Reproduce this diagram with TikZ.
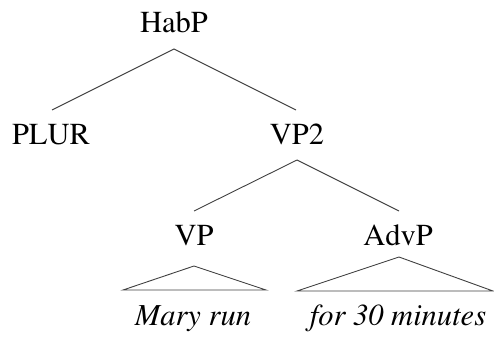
\documentclass[tikz,border=0pt]{standalone}
\usepackage[T1]{fontenc}
\usepackage{times}
\begin{document}
\begin{tikzpicture}[x=1pt,y=-1pt,
  lbl/.style={anchor=base,inner sep=0pt,font=\rmfamily\fontsize{30.5}{36}\selectfont},
  leaf/.style={lbl,font=\rmfamily\fontsize{30.5}{36}\selectfont\itshape},
  edge/.style={draw=black!75,line width=0.9pt}]
\useasboundingbox (0,0) rectangle (494,337);
\node[lbl] (habp) at (174,33) {HabP};
\node[lbl] (plur) at (51,144) {PLUR};
\node[lbl] (vp2) at (297,144) {VP2};
\node[lbl] (vp) at (194,245) {VP};
\node[lbl] (advp) at (398,245) {AdvP};
\node[leaf] (mr) at (193,325) {Mary run};
\node[leaf] (f30) at (398,325) {for 30 minutes};
\coordinate (habpB) at (174,49);
\coordinate (plurT) at (52,110);
\coordinate (vp2T) at (296,110);
\coordinate (vp2B) at (297,160);
\coordinate (vpT) at (194,211);
\coordinate (advpT) at (399,211);
\coordinate (vpA) at (194,266);
\coordinate (vpL) at (123,290);
\coordinate (vpR) at (266,290);
\coordinate (advA) at (399,257);
\coordinate (advL) at (297,291);
\coordinate (advR) at (493,291);
\draw[edge] (plurT) -- (habpB) -- (vp2T);
\draw[edge] (vpT) -- (vp2B) -- (advpT);
\draw[edge] (vpA) -- (vpL) -- (vpR) -- cycle;
\draw[edge] (advA) -- (advL) -- (advR) -- cycle;
\end{tikzpicture}
\end{document}
